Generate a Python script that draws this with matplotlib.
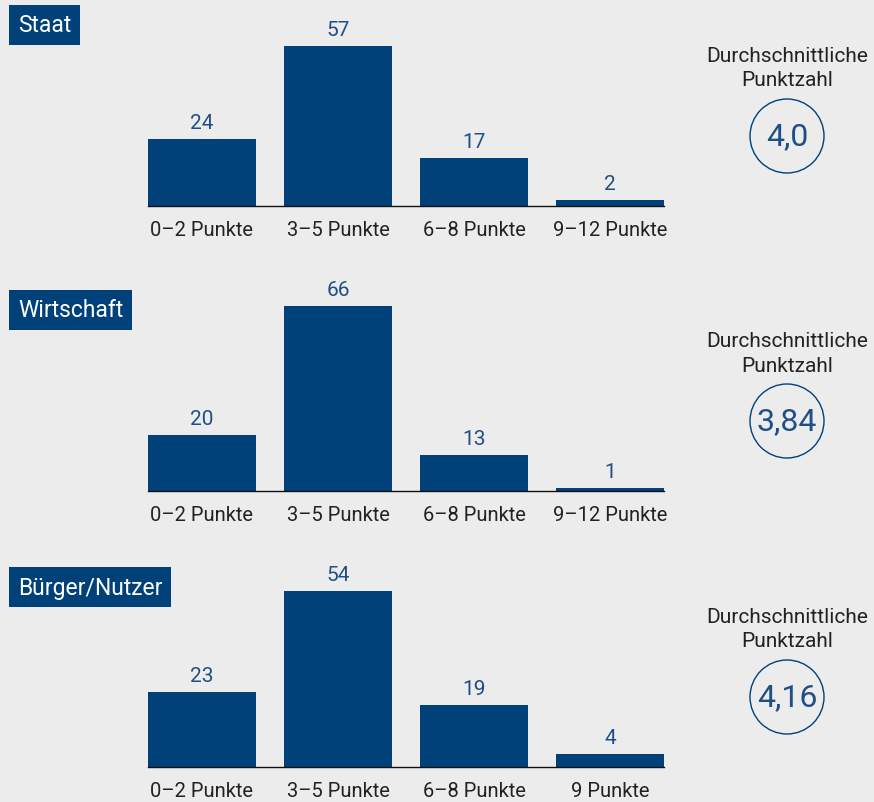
"""
Punktverteilung nach Sektor: drei Balkendiagramme mit Durchschnittswert
"""

import matplotlib.pyplot as plt
from matplotlib.patches import Ellipse

# data
panel_titles = ["Staat", "Wirtschaft", "Bürger/Nutzer"]
labels_staat = ["0–2 Punkte", "3–5 Punkte", "6–8 Punkte", "9–12 Punkte"]
labels_wirtschaft = ["0–2 Punkte", "3–5 Punkte", "6–8 Punkte", "9–12 Punkte"]
labels_buerger = ["0–2 Punkte", "3–5 Punkte", "6–8 Punkte", "9 Punkte"]
values_staat = [24, 57, 17, 2]
values_wirtschaft = [20, 66, 13, 1]
values_buerger = [23, 54, 19, 4]
averages = ["4,0", "3,84", "4,16"]

BG = "#ececec"
NAVY = "#00417a"
LABEL_NAVY = "#1f4f86"
TEXT = "#222222"

plt.rcParams['font.family'] = ['Roboto', 'DejaVu Sans']

W, H = 874, 803
fig = plt.figure(figsize=(W / 100, H / 100), dpi=100)
fig.patch.set_facecolor(BG)

# layout per panel in pixels: baseline y, px per unit, y-limit, title y, avg block y
panels = [
    dict(labels=labels_staat, values=values_staat, base=207, scale=2.807, ymax=60,
         title_y=26, avg_y=57),
    dict(labels=labels_wirtschaft, values=values_wirtschaft, base=492, scale=2.80, ymax=68,
         title_y=311, avg_y=342),
    dict(labels=labels_buerger, values=values_buerger, base=768, scale=3.26, ymax=56,
         title_y=588, avg_y=618),
]

left_px, right_px = 148, 664
bar_w = 108 / 136

for title, avg, p in zip(panel_titles, averages, panels):
    h_px = p['ymax'] * p['scale']
    ax = fig.add_axes([left_px / W, (H - p['base']) / H, (right_px - left_px) / W, h_px / H])
    ax.set_facecolor(BG)
    x = range(len(p['values']))
    bars = ax.bar(x, p['values'], width=bar_w, color=NAVY)
    ax.set_xlim(-bar_w / 2, len(p['values']) - 1 + bar_w / 2)
    ax.set_ylim(0, p['ymax'])
    for b, v in zip(bars, p['values']):
        ax.annotate(str(v), (b.get_x() + b.get_width() / 2, v), xytext=(0, 5),
                    textcoords='offset points', ha='center', va='bottom',
                    fontsize=15, color=LABEL_NAVY)
    for s in ['top', 'right', 'left']:
        ax.spines[s].set_visible(False)
    ax.spines['bottom'].set_color('#111111')
    ax.spines['bottom'].set_linewidth(1.0)
    ax.set_yticks([])
    ax.set_xticks(list(x))
    ax.set_xticklabels(p['labels'], fontsize=14.5, color=TEXT)
    ax.tick_params(axis='x', length=0, pad=10)

    # section title box
    fig.text(18 / W, 1 - p['title_y'] / H, title, fontsize=16.5, color='white',
             ha='left', va='center',
             bbox=dict(boxstyle='square,pad=0.38', facecolor=NAVY, edgecolor='none'))

    # average block
    cx = 787
    fig.text(cx / W, 1 - p['avg_y'] / H, "Durchschnittliche", fontsize=15,
             color=TEXT, ha='center', va='center')
    fig.text(cx / W, 1 - (p['avg_y'] + 24) / H, "Punktzahl", fontsize=15,
             color=TEXT, ha='center', va='center')
    cy = p['avg_y'] + 80
    fig.add_artist(Ellipse((cx / W, 1 - cy / H), 74 / W, 74 / H,
                           transform=fig.transFigure, facecolor='none',
                           edgecolor=NAVY, linewidth=1.0))
    fig.text(cx / W, 1 - cy / H, avg, fontsize=23, color=LABEL_NAVY,
             ha='center', va='center')

fig.savefig('out.png', dpi=100, facecolor=BG)
